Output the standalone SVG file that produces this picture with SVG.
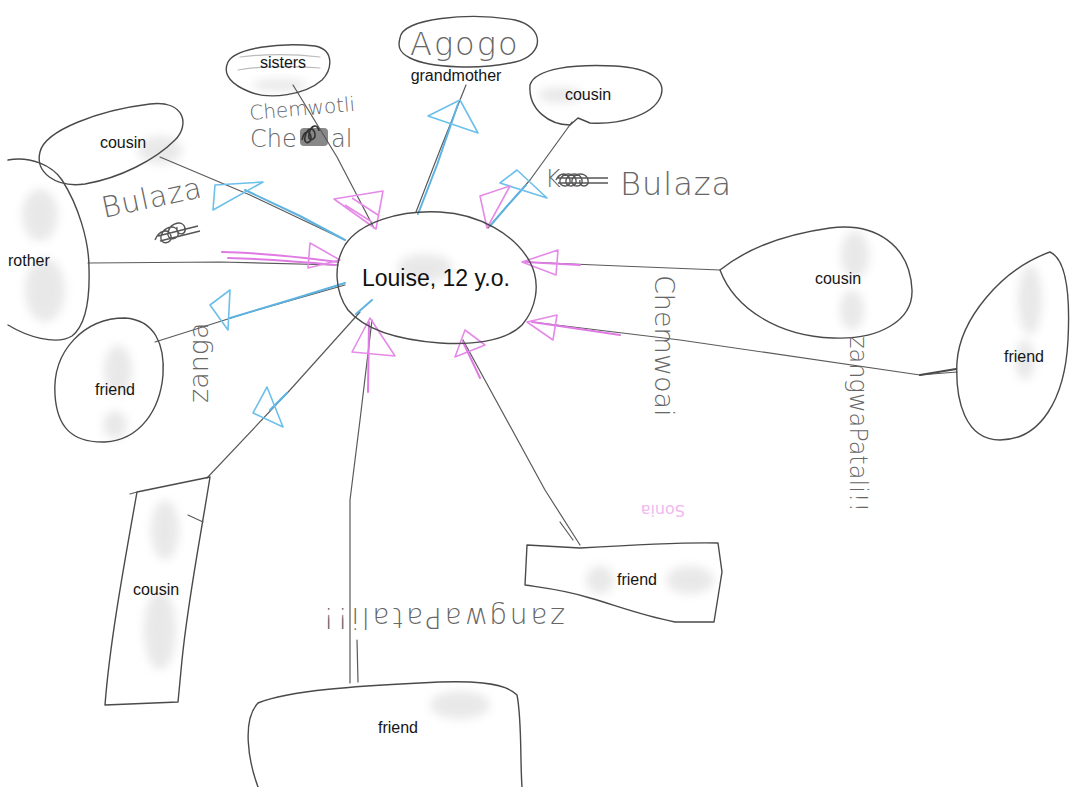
<svg xmlns="http://www.w3.org/2000/svg" width="1070" height="787" viewBox="0 0 1070 787">
  <defs>
    <filter id="smudge" x="-50%" y="-50%" width="200%" height="200%">
      <feGaussianBlur stdDeviation="5"/>
    </filter>
    <style>
      .outline { fill: none; stroke: #4a4a4a; stroke-width: 1.4; stroke-linecap: round; stroke-linejoin: round; }
      .pencil { fill: none; stroke: #5a5a5a; stroke-width: 1.2; stroke-linecap: round; stroke-linejoin: round; }
      .blue { fill: none; stroke: #5cb3e2; stroke-width: 2; stroke-linecap: round; stroke-linejoin: round; }
      .bluehead { fill: none; stroke: #6cc0ea; stroke-width: 1.6; stroke-linejoin: round; }
      .pink { fill: none; stroke: #e07ae4; stroke-width: 2; stroke-linecap: round; stroke-linejoin: round; }
      .pinkhead { fill: none; stroke: #e58ae8; stroke-width: 1.6; stroke-linejoin: round; }
      .label { font-family: "Liberation Sans", Arial, sans-serif; font-size: 16px; fill: #151515; text-anchor: middle; }
      .hand { font-family: "DejaVu Sans", "Liberation Sans", sans-serif; font-weight: 200; fill: #666; }
      .scribble { fill: none; stroke: #555; stroke-width: 1.4; }
      .blur { fill: #c8c8c8; opacity: 0.4; filter: url(#smudge); }
    </style>
  </defs>

  <rect width="1070" height="787" fill="#ffffff"/>

  <!-- soft erased areas inside the bubbles -->
  <g id="erasures">
    <ellipse class="blur" cx="160" cy="150" rx="22" ry="14"/>
    <ellipse class="blur" cx="40" cy="215" rx="18" ry="26"/>
    <ellipse class="blur" cx="45" cy="290" rx="20" ry="32"/>
    <ellipse class="blur" cx="118" cy="370" rx="14" ry="25"/>
    <ellipse class="blur" cx="115" cy="425" rx="12" ry="14"/>
    <ellipse class="blur" cx="165" cy="530" rx="14" ry="30"/>
    <ellipse class="blur" cx="160" cy="630" rx="16" ry="40"/>
    <ellipse class="blur" cx="460" cy="705" rx="30" ry="14"/>
    <ellipse class="blur" cx="600" cy="580" rx="14" ry="14"/>
    <ellipse class="blur" cx="690" cy="580" rx="24" ry="14"/>
    <ellipse class="blur" cx="855" cy="255" rx="14" ry="24"/>
    <ellipse class="blur" cx="852" cy="310" rx="12" ry="20"/>
    <ellipse class="blur" cx="1030" cy="300" rx="12" ry="35"/>
    <ellipse class="blur" cx="1025" cy="360" rx="10" ry="20"/>
    <ellipse class="blur" cx="280" cy="85" rx="28" ry="6"/>
    <ellipse class="blur" cx="560" cy="95" rx="22" ry="8"/>
    <ellipse class="blur" cx="425" cy="268" rx="28" ry="14"/>
  </g>

  <!-- lines from each person to Louise, with coloured pencil arrows -->
  <g id="connectors">
    <!-- sisters -->
    <path class="pencil" d="M293,85 L337,157 L374,228"/>
    <path class="pinkhead" d="M376,229 L334,199 L383,191 Z M345,205 L372,222 M352,198 L378,215"/>
    <!-- grandmother -->
    <path class="pencil" d="M466,85 L440,150 L416,212"/>
    <path class="blue" d="M458,104 L437,165 L418,214"/>
    <path class="bluehead" d="M460,100 L428,116 L478,133 Z"/>
    <!-- cousin, top right -->
    <path class="pencil" d="M572,122 L530,180 L488,228"/>
    <path class="blue" d="M526,185 L508,205 L490,226"/>
    <path class="bluehead" d="M500,183 L517,170 L547,198 Z"/>
    <path class="pinkhead" d="M487,228 L480,196 L510,186 Z"/>
    <!-- cousin, top left -->
    <path class="pencil" d="M160,157 L250,195 L345,240"/>
    <path class="blue" d="M245,190 L300,216 L345,240"/>
    <path class="bluehead" d="M215,185 L263,182 L213,210 Z"/>
    <!-- brother -->
    <path class="pencil" d="M88,263 L220,262 L338,265"/>
    <path class="pink" d="M222,252 C260,253 300,257 338,262 M228,258 C270,259 305,262 335,265"/>
    <path class="pinkhead" d="M340,260 L310,243 L308,268 Z"/>
    <!-- friend, left -->
    <path class="pencil" d="M155,342 L250,312 L345,285"/>
    <path class="blue" d="M230,318 L290,300 L345,283"/>
    <path class="bluehead" d="M230,290 L210,305 L228,330 Z"/>
    <!-- cousin, bottom left -->
    <path class="pencil" d="M207,478 L290,390 L360,312"/>
    <path class="blue" d="M270,410 L287,393 M356,314 L372,300"/>
    <path class="bluehead" d="M253,413 L267,387 L283,427 Z"/>
    <!-- friend, bottom -->
    <path class="pencil" d="M350,683 L350,500 L360,420 L372,320"/>
    <path class="pencil" d="M357,640 L358,682"/>
    <path class="pink" d="M369,322 L368,392"/>
    <path class="pinkhead" d="M370,318 L352,352 L395,356 Z"/>
    <!-- friend, bottom right -->
    <path class="pencil" d="M580,545 L545,490 L463,340 M573,540 L560,522"/>
    <path class="pinkhead" d="M465,330 L485,345 L455,357 Z"/>
    <path class="pink" d="M463,342 L480,378"/>
    <!-- cousin, right -->
    <path class="pencil" d="M720,270 L620,266 L525,262"/>
    <path class="pink" d="M525,262 L580,265"/>
    <path class="pinkhead" d="M522,262 L558,250 L556,275 Z"/>
    <!-- friend, far right -->
    <path class="pencil" d="M957,372 L920,375 L680,340 L532,322"/>
    <path class="outline" d="M920,375 L956,369" style="stroke-width:2.2"/>
    <path class="pink" d="M532,322 L620,335"/>
    <path class="pinkhead" d="M527,322 L557,315 L553,340 Z"/>
  </g>

  <!-- Louise -->
  <g id="louise">
    <path class="outline" d="M345,245 C360,222 400,210 440,212 C480,214 515,235 530,262 C542,285 535,310 522,325 C505,342 470,345 440,343 C400,340 365,330 348,310 C335,292 333,265 345,245 Z"/>
    <text x="362" y="286" style="font-family:'Liberation Sans', Arial, sans-serif; font-size:23px; fill:#111">Louise, 12 y.o.</text>
  </g>

  <!-- sisters -->
  <g id="sisters">
    <path class="outline" d="M228,62 C235,48 280,42 315,46 C335,50 332,70 322,80 C305,95 270,100 250,92 C232,85 222,75 228,62 Z"/>
    <path class="pencil" d="M238,70 C260,66 290,66 320,68 M240,57 C265,54 295,54 320,57" style="stroke:#bbb"/>
    <text class="label" x="283" y="68">sisters</text>
    <text class="hand" x="250" y="120" font-size="20" transform="rotate(-5 250 120)">Chemwotli</text>
    <text class="hand" x="250" y="147" font-size="24">Che</text>
    <rect x="300" y="128" width="28" height="18" rx="4" fill="#555" opacity="0.7"/>
    <path class="scribble" d="M302,140 c2,-10 8,-10 9,-3 c1,7 -8,8 -6,0 c2,-10 9,-10 10,-3 c1,7 -8,8 -6,0 c2,-10 9,-10 10,-3" style="stroke:#333;stroke-width:1.6"/>
    <text class="hand" x="331" y="147" font-size="24">al</text>
  </g>

  <!-- grandmother -->
  <g id="grandmother">
    <path class="outline" d="M400,38 C402,18 470,12 515,20 C545,27 545,55 515,62 C480,70 430,68 410,58 C398,52 398,45 400,38 Z"/>
    <text class="hand" x="410" y="55" font-size="32" letter-spacing="2">Agogo</text>
    <text class="label" x="456" y="81">grandmother</text>
  </g>

  <!-- cousin, top right -->
  <g id="cousin-top-right">
    <path class="outline" d="M530,85 C535,68 575,64 615,66 C650,68 668,80 660,98 C652,115 620,125 590,123 L578,118 L570,125 C550,125 528,110 530,85 Z"/>
    <text class="label" x="588" y="100">cousin</text>
    <text class="hand" x="545" y="187" font-size="24">K</text>
    <path class="scribble" d="M556,180 c4,-8 12,-8 14,0 c2,8 -12,8 -10,0 c3,-8 14,-8 16,0 c2,8 -12,8 -10,0 c3,-8 14,-8 16,0 c2,8 -12,8 -10,0 c3,-8 14,-8 16,0 c2,8 -10,8 -8,0 M558,178 h50 M558,183 h50"/>
    <text class="hand" x="620" y="195" font-size="32" letter-spacing="1">Bulaza</text>
  </g>

  <!-- cousin, top left -->
  <g id="cousin-top-left">
    <path class="outline" d="M40,152 C45,130 100,110 150,104 C185,100 190,125 175,140 C155,160 120,178 85,184 C55,188 35,172 40,152 Z"/>
    <text class="label" x="123" y="148">cousin</text>
    <text class="hand" x="104" y="218" font-size="29" letter-spacing="1" transform="rotate(-12 104 218)">Bulaza</text>
    <path class="scribble" d="M155,240 c4,-10 14,-12 16,-4 c2,8 -12,10 -10,0 c3,-10 15,-12 17,-4 c2,8 -12,10 -10,0 c3,-10 15,-12 17,-4 c2,8 -10,8 -8,-1 M158,236 l40,-10 M160,241 l40,-10"/>
  </g>

  <!-- brother -->
  <g id="brother">
    <path class="outline" d="M8,160 C30,156 52,165 62,180 C78,205 89,240 89,268 C90,300 86,325 72,336 C56,346 26,336 8,325"/>
    <text x="8" y="266" style="font-family:'Liberation Sans', Arial, sans-serif; font-size:16px; fill:#151515">rother</text>
  </g>

  <!-- friend, left -->
  <g id="friend-left">
    <path class="outline" d="M55,395 C52,350 85,318 125,318 C155,320 165,345 163,375 C160,410 140,440 105,442 C70,443 57,425 55,395 Z"/>
    <text class="label" x="115" y="395">friend</text>
    <text class="hand" x="208" y="403" font-size="27" transform="rotate(-90 208 403)">zanga</text>
  </g>

  <!-- cousin, bottom left -->
  <g id="cousin-bottom-left">
    <path class="outline" d="M137,492 L210,477 C200,540 188,600 182,660 L178,702 L105,705 C110,640 125,560 137,492 Z"/>
    <path class="pencil" d="M130,494 L137,492 M188,515 L203,522"/>
    <text class="label" x="156" y="595">cousin</text>
  </g>

  <!-- friend, bottom -->
  <g id="friend-bottom">
    <path class="outline" d="M258,787 C248,760 242,720 258,703 C290,690 360,686 420,683 C470,680 505,682 517,695 C522,720 520,760 522,787"/>
    <text class="label" x="398" y="733">friend</text>
    <text class="hand" x="0" y="0" font-size="28" textLength="242" transform="translate(565 608) rotate(180)">zangwaPatali!!</text>
  </g>

  <!-- friend, bottom right -->
  <g id="friend-bottom-right">
    <path class="outline" d="M527,545 L580,548 C630,545 680,542 718,543 L722,572 L714,622 L675,622 C640,615 615,605 590,598 C565,590 545,588 525,585 Z"/>
    <text class="label" x="637" y="585">friend</text>
    <text x="0" y="0" font-size="16" transform="translate(685 505) rotate(180)" style="font-family:'DejaVu Sans', sans-serif; fill:#f2b8f0">Sonia</text>
  </g>

  <!-- cousin, right -->
  <g id="cousin-right">
    <path class="outline" d="M720,270 C745,250 780,235 830,228 C875,222 910,245 912,290 C913,320 880,340 833,338 C780,336 735,310 720,270 Z"/>
    <text class="label" x="838" y="284">cousin</text>
    <text class="hand" x="655" y="275" font-size="27" transform="rotate(90 655 275)">Chemwoai</text>
  </g>

  <!-- friend, far right -->
  <g id="friend-far-right">
    <path class="outline" d="M957,362 C960,320 1000,270 1050,252 C1068,260 1070,300 1068,340 C1065,400 1040,440 1000,440 C965,440 955,400 957,362 Z"/>
    <text class="label" x="1024" y="362">friend</text>
    <text class="hand" x="850" y="336" font-size="24" transform="rotate(90 850 336)">zangwaPatali!!</text>
  </g>
</svg>
